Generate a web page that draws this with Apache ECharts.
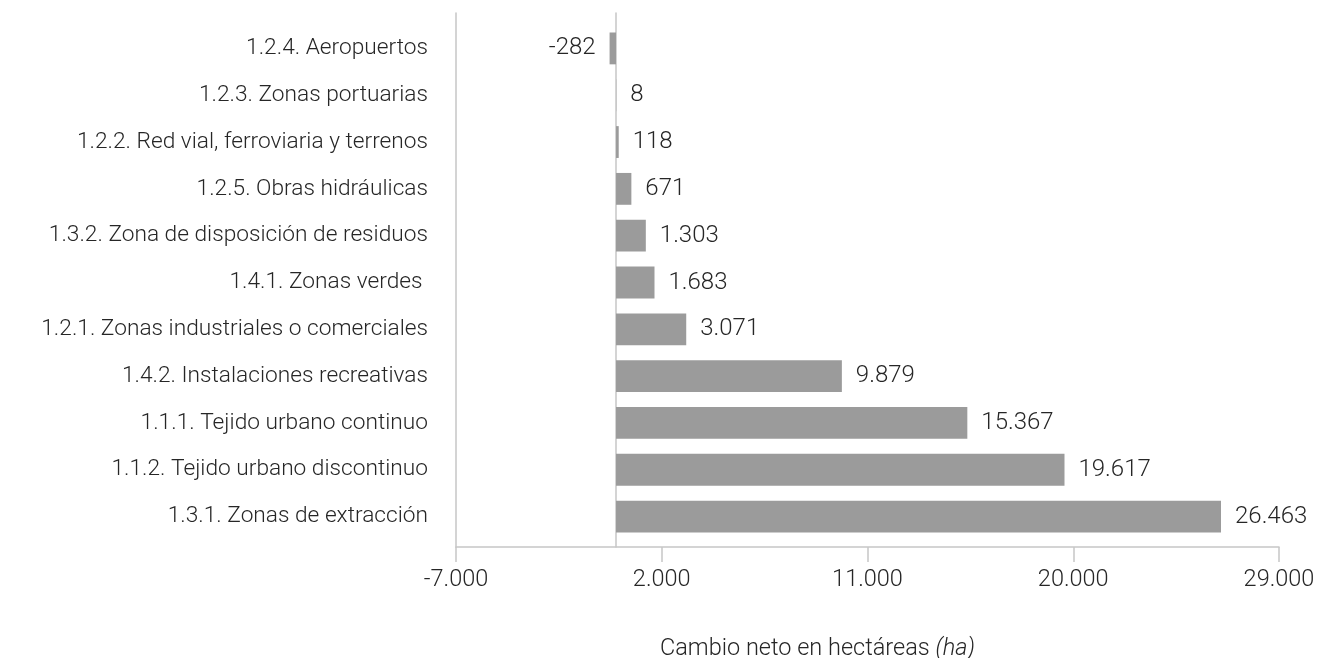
<!DOCTYPE html>
<html>
<head>
<meta charset="utf-8">
<title>Cambio neto en hectáreas</title>
<script src="https://cdn.jsdelivr.net/npm/echarts@6/dist/echarts.min.js"></script>
<style>
  html, body { margin: 0; padding: 0; background: #ffffff; }
  #chart { width: 1320px; height: 658px; }
</style>
</head>
<body>
<div id="chart"></div>
<script>
// Land-cover classes, listed top to bottom
const categories = [
  '1.2.4. Aeropuertos',
  '1.2.3. Zonas portuarias',
  '1.2.2. Red vial, ferroviaria y terrenos',
  '1.2.5. Obras hidráulicas',
  '1.3.2. Zona de disposición de residuos',
  '1.4.1. Zonas verdes ',
  '1.2.1. Zonas industriales o comerciales',
  '1.4.2. Instalaciones recreativas',
  '1.1.1. Tejido urbano continuo',
  '1.1.2. Tejido urbano discontinuo',
  '1.3.1. Zonas de extracción'
];

// Net change in hectares for each class
const netChange = [-282, 8, 118, 671, 1303, 1683, 3071, 9879, 15367, 19617, 26463];

// Value axis range and step
const axisMin = -7000;
const axisMax = 29000;
const axisStep = 9000;

const FONT = 'Roboto, "Noto Sans", sans-serif';
const TEXT = '#262626';
const LINE = '#c6c6c6';

// Thousands separator as a dot
function fmt(v) {
  const s = Math.abs(v).toString().replace(/\B(?=(\d{3})+(?!\d))/g, '.');
  return (v < 0 ? '-' : '') + s;
}

const chart = echarts.init(document.getElementById('chart'), null, { renderer: 'canvas' });

const gridLeft = 456, gridRight = 41;

chart.setOption({
  animation: false,
  backgroundColor: '#ffffff',
  title: {
    text: '{n|Cambio neto en hectáreas }{i|(ha)}',
    left: 655,
    top: 632,
    textStyle: {
      rich: {
        n: { fontFamily: FONT, fontWeight: 300, fontSize: 23.5, color: TEXT },
        i: { fontFamily: FONT, fontWeight: 300, fontStyle: 'italic', fontSize: 23.5, color: TEXT }
      }
    }
  },
  grid: [
    // bars
    { left: gridLeft, right: gridRight, top: 25, height: 515, containLabel: false },
    // frame: left rule, zero rule and value axis
    { left: gridLeft, right: gridRight, top: 13, height: 534, containLabel: false }
  ],
  xAxis: [
    {
      gridIndex: 0, type: 'value', min: axisMin, max: axisMax, interval: axisStep,
      show: false
    },
    {
      gridIndex: 1, type: 'value', min: axisMin, max: axisMax, interval: axisStep,
      axisLine: { show: true, onZero: false, lineStyle: { color: LINE, width: 1.5 } },
      axisTick: { show: true, length: 15, lineStyle: { color: LINE, width: 1.5 } },
      splitLine: { show: false },
      axisLabel: {
        margin: 21,
        fontFamily: FONT, fontWeight: 300, fontSize: 23.5, color: TEXT,
        formatter: fmt
      }
    }
  ],
  yAxis: [
    {
      gridIndex: 0, type: 'category', data: categories, inverse: true,
      axisLine: { show: false },
      axisTick: { show: false },
      axisLabel: {
        margin: 28,
        fontFamily: FONT, fontWeight: 300, fontSize: 22.7, color: TEXT
      }
    },
    {
      gridIndex: 1, type: 'category', data: [''],
      axisLine: { show: true, onZero: false, lineStyle: { color: LINE, width: 1.5 } },
      axisTick: { show: false },
      axisLabel: { show: false }
    },
    {
      gridIndex: 1, type: 'category', data: [''], position: 'right',
      axisLine: { show: true, onZero: true, lineStyle: { color: LINE, width: 1.5 } },
      axisTick: { show: false },
      axisLabel: { show: false }
    }
  ],
  series: [
    {
      type: 'bar',
      xAxisIndex: 0,
      yAxisIndex: 0,
      barCategoryGap: '32%',
      itemStyle: { color: '#9b9b9b' },
      label: {
        show: true,
        distance: 14,
        fontFamily: FONT, fontWeight: 300, fontSize: 24, color: TEXT,
        formatter: p => fmt(p.value)
      },
      data: netChange.map(v => ({
        value: v,
        label: { position: v < 0 ? 'left' : 'right' }
      }))
    }
  ]
});
</script>
</body>
</html>
